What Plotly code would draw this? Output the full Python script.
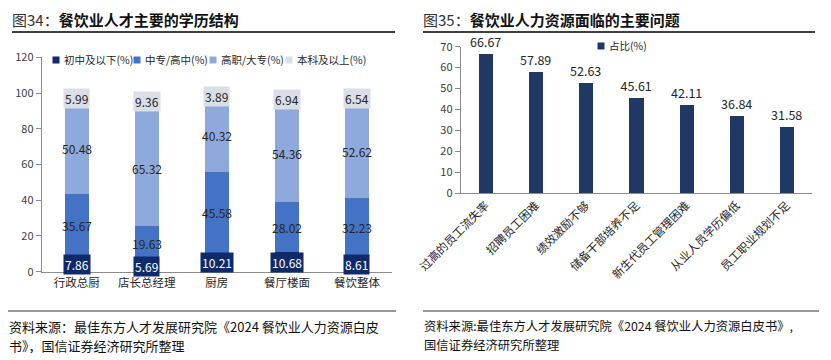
import plotly.graph_objects as go

# ---- Left chart data ----
roles = ["行政总厨", "店长总经理", "厨房", "餐厅楼面", "餐饮整体"]
edu_names = ["初中及以下(%)", "中专/高中(%)", "高职/大专(%)", "本科及以上(%)"]
junior = [7.86, 5.69, 10.21, 10.68, 8.61]
senior_high = [35.67, 19.63, 45.58, 28.02, 32.23]
college = [50.48, 65.32, 40.32, 54.36, 52.62]
bachelor = [5.99, 9.36, 3.89, 6.94, 6.54]
left_ticks = [0, 20, 40, 60, 80, 100, 120]

# ---- Right chart data ----
problems = ["过高的员工流失率", "招聘员工困难", "绩效激励不够", "储备干部培养不足",
            "新生代员工管理困难", "从业人员学历偏低", "员工职业规划不足"]
share_name = "占比(%)"
share = [66.67, 57.89, 52.63, 45.61, 42.11, 36.84, 31.58]
right_ticks = [0, 10, 20, 30, 40, 50, 60, 70]

# the page body has an 8px margin, so the figure is drawn 8px in from the corner
OFF = 8
W, H = 831 - OFF, 360 - OFF
FONT = "Noto Sans CJK SC"
seg_colors = ["#0F2A6B", "#4472C4", "#8EA9DB", "#D9DEE7"]
txt_colors = ["#FFFFFF", "#262626", "#262626", "#262626"]
box_colors = ["#0F2A6B", None, None, "#D9DEE7"]
navy = "#1F3864"

def px_x(p):
    return (p - OFF) / W

def px_y(p):
    return 1 - (p - OFF) / H

fig = go.Figure()

series = [junior, senior_high, college, bachelor]
for name, vals, col in zip(edu_names, series, seg_colors):
    fig.add_trace(go.Bar(
        x=roles, y=vals, name=name, marker=dict(color=col, line=dict(width=0)),
        width=0.34, xaxis="x", yaxis="y", showlegend=False, hoverinfo="y",
    ))

fig.add_trace(go.Bar(
    x=problems, y=share, name=share_name, marker=dict(color=navy, line=dict(width=0)),
    width=0.28, xaxis="x2", yaxis="y2", showlegend=False,
    text=[f"{v:.2f}" for v in share], textposition="outside", cliponaxis=False,
    constraintext="none",
    textfont=dict(size=12.5, color="#262626", family=FONT),
))

annotations = []
shapes = []
# segment labels for the stacked chart
for i, role in enumerate(roles):
    base = 0
    for k, vals in enumerate(series):
        v = vals[i]
        mid = base + v / 2
        ann = dict(
            x=role, y=mid, xref="x", yref="y", text=f"{v:.2f}", showarrow=False,
            font=dict(size=12, color=txt_colors[k], family=FONT), borderpad=1,
        )
        if box_colors[k]:
            ann["bgcolor"] = box_colors[k]
        annotations.append(ann)
        base += v

# manual legends
left_leg_x = [56, 137, 213, 289]
for name, col, lx in zip(edu_names, seg_colors, left_leg_x):
    shapes.append(dict(type="rect", xref="paper", yref="paper",
                       x0=px_x(lx - 3.5), x1=px_x(lx + 3.5), y0=px_y(63.5), y1=px_y(56.5),
                       fillcolor=col, line=dict(width=0)))
    annotations.append(dict(x=px_x(lx + 6), y=px_y(60), xref="paper", yref="paper",
                            xanchor="left", yanchor="middle", text=name, showarrow=False,
                            font=dict(size=10.5, color="#262626", family=FONT)))
shapes.append(dict(type="rect", xref="paper", yref="paper",
                   x0=px_x(601 - 3.5), x1=px_x(601 + 3.5), y0=px_y(49.5), y1=px_y(42.5),
                   fillcolor=navy, line=dict(width=0)))
annotations.append(dict(x=px_x(607), y=px_y(46), xref="paper", yref="paper",
                        xanchor="left", yanchor="middle", text=share_name, showarrow=False,
                        font=dict(size=10.5, color="#262626", family=FONT)))

# titles
annotations.append(dict(
    x=px_x(10), y=px_y(19), xref="paper", yref="paper", xanchor="left", yanchor="middle",
    text="<span style='color:#333333'>图34：</span><b>餐饮业人才主要的学历结构</b>",
    showarrow=False, font=dict(size=15, color="#111111", family=FONT)))
annotations.append(dict(
    x=px_x(421), y=px_y(19), xref="paper", yref="paper", xanchor="left", yanchor="middle",
    text="<span style='color:#333333'>图35：</span><b>餐饮业人力资源面临的主要问题</b>",
    showarrow=False, font=dict(size=15, color="#111111", family=FONT)))

# sources (one annotation per row)
src_rows_left = ["资料来源：最佳东方人才发展研究院《2024 餐饮业人力资源白皮", "书》，国信证券经济研究所整理"]
src_rows_right = ["资料来源:最佳东方人才发展研究院《2024 餐饮业人力资源白皮书》,", "国信证券经济研究所整理"]
for row, (tl, tr) in enumerate(zip(src_rows_left, src_rows_right)):
    yy = 326 + row * 19
    annotations.append(dict(
        x=px_x(7), y=px_y(yy), xref="paper", yref="paper", xanchor="left", yanchor="middle",
        text=tl, showarrow=False, font=dict(size=13, color="#111111", family=FONT)))
    annotations.append(dict(
        x=px_x(422), y=px_y(yy), xref="paper", yref="paper", xanchor="left", yanchor="middle",
        text=tr, showarrow=False, font=dict(size=12.3, color="#111111", family=FONT)))

shapes += [
    dict(type="line", xref="paper", yref="paper", x0=px_x(12), x1=px_x(395), y0=px_y(32), y1=px_y(32),
         line=dict(color="#000000", width=1.5)),
    dict(type="line", xref="paper", yref="paper", x0=px_x(423), x1=px_x(815), y0=px_y(32), y1=px_y(32),
         line=dict(color="#000000", width=1.5)),
    dict(type="line", xref="paper", yref="paper", x0=px_x(8), x1=px_x(396), y0=px_y(311), y1=px_y(311),
         line=dict(color="#333333", width=1.2)),
    dict(type="line", xref="paper", yref="paper", x0=px_x(423), x1=px_x(819), y0=px_y(311), y1=px_y(311),
         line=dict(color="#333333", width=1.2)),
]

axis_font = dict(size=11, color="#404040", family=FONT)

fig.update_layout(
    width=W, height=H, margin=dict(l=0, r=0, t=0, b=0, autoexpand=False),
    paper_bgcolor="white", plot_bgcolor="white",
    barmode="stack", bargap=0,
    font=dict(family=FONT),
    annotations=annotations, shapes=shapes,
    showlegend=False,
    xaxis=dict(domain=[px_x(41.7), px_x(392)], range=[-0.5, 4.5], showgrid=False,
               showline=True, linecolor="#8C8C8C", linewidth=1, ticks="", automargin=False,
               tickfont=dict(size=11.5, color="#262626", family=FONT), anchor="y"),
    yaxis=dict(domain=[px_y(271.7), px_y(57.3)], range=[0, 120], tickvals=left_ticks,
               showgrid=False, zeroline=False, showline=True, linecolor="#8C8C8C", linewidth=1,
               ticks="outside", ticklen=5, tickcolor="#8C8C8C", tickfont=axis_font, anchor="x",
               automargin=False),
    xaxis2=dict(domain=[px_x(460.7), px_x(811.7)], range=[-0.5, 6.5], showgrid=False,
                showline=True, linecolor="#8C8C8C", linewidth=1, ticks="", tickangle=-45,
                tickfont=dict(size=11.5, color="#262626", family=FONT), anchor="y2",
                automargin=False),
    yaxis2=dict(domain=[px_y(193.3), px_y(46.7)], range=[0, 70], tickvals=right_ticks,
                showgrid=False, zeroline=False, showline=True, linecolor="#8C8C8C", linewidth=1,
                ticks="outside", ticklen=5, tickcolor="#8C8C8C", tickfont=axis_font, anchor="x2",
                automargin=False),
)

fig.write_html("out.html")
